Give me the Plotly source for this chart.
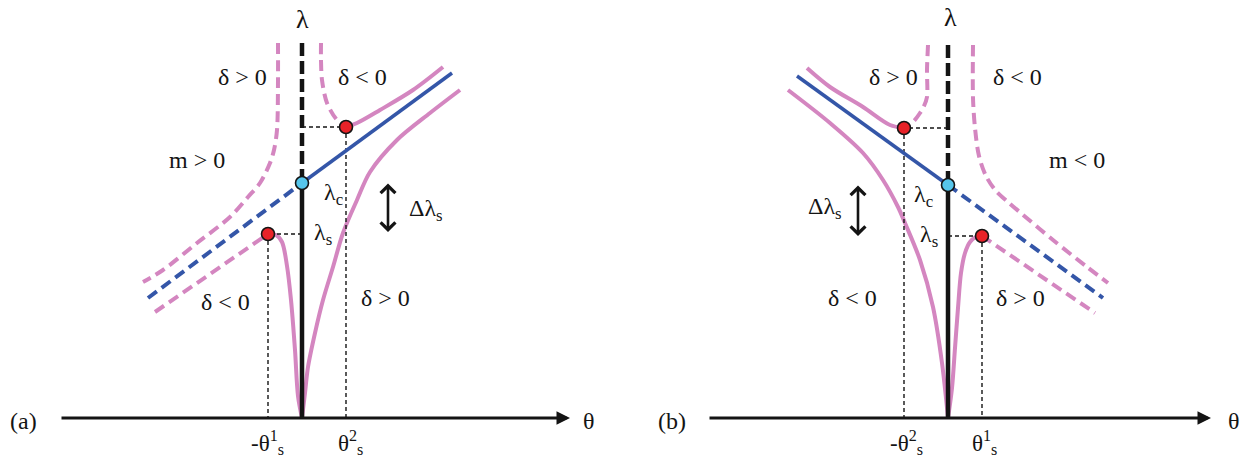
import plotly.graph_objects as go

# colours
PINK = "rgb(212,134,192)"
BLUE = "rgb(52,86,168)"
RED = "rgb(232,34,40)"
CYAN = "rgb(86,198,236)"
INK = "rgb(20,20,20)"
FONT = "Liberation Serif, Times New Roman, Times, serif"

# ---------------- panel (a): m > 0 ----------------
a_up_dash_theta = [19, 19, 20, 25, 35, 44]
a_up_dash_lam = [375, 358, 338, 315, 298, 291]
a_up_solid_theta = [44, 55, 78, 111, 141]
a_up_solid_lam = [291, 295, 308, 328, 351]
a_left_dash_theta = [-24, -24, -25, -28, -32, -42, -54, -72, -105, -139, -159]
a_left_dash_lam = [375, 338, 288, 268, 255, 235, 221, 201, 175, 148, 136]
a_low_dash_theta = [-147, -34]
a_low_dash_lam = [106, 184]
a_well_theta = [-34, -26, -20, -15, -11, -7, -4, 0]
a_well_lam = [184, 183, 176, 152, 118, 68, 22, 0]
a_rise_theta = [0, 3, 6, 13, 21, 31, 41, 55, 68, 95, 128, 158]
a_rise_lam = [0, 25, 51, 85, 118, 151, 185, 218, 246, 278, 305, 328]
a_blue_dash_theta = [-154, 0]
a_blue_dash_lam = [120, 235]
a_blue_solid_theta = [0, 150]
a_blue_solid_lam = [235, 345]
a_lam_top, a_lam_c = 375, 235
a_red_theta = [44, -34]
a_red_lam = [291, 184]
a_cyan_theta = [0]
a_cyan_lam = [235]
a_axis_theta = [-242, 268]

# ---------------- panel (b): m < 0 ----------------
b_up_dash_theta = [-20, -21, -21, -24, -28, -35, -44]
b_up_dash_lam = [373, 348, 321, 312, 305, 296, 290]
b_up_solid_theta = [-44, -58, -85, -118, -141]
b_up_solid_lam = [290, 293, 311, 331, 350]
b_right_dash_theta = [25, 25, 27, 31, 38, 48, 60, 74, 105, 139, 160]
b_right_dash_lam = [373, 320, 290, 262, 242, 227, 216, 204, 178, 151, 135]
b_low_dash_theta = [34, 147]
b_low_dash_lam = [182, 105]
b_well_theta = [0, 4, 7, 10, 13, 17, 22, 28, 34]
b_well_lam = [0, 30, 70, 110, 145, 165, 176, 181, 182]
b_fall_theta = [-160, -118, -85, -65, -50, -43, -28, -15, -6, 0]
b_fall_lam = [328, 295, 265, 238, 211, 195, 158, 111, 55, 0]
b_blue_dash_theta = [0, 155]
b_blue_dash_lam = [233, 120]
b_blue_solid_theta = [-151, 0]
b_blue_solid_lam = [342, 233]
b_lam_top, b_lam_c = 373, 233
b_red_theta = [-44, 34]
b_red_lam = [290, 182]
b_cyan_theta = [0]
b_cyan_lam = [233]
b_axis_theta = [-240, 263]

fig = go.Figure()


def curve(xs, ys, xa, color, width, dash="solid", spline=True):
    fig.add_trace(go.Scatter(
        x=xs, y=ys, xaxis=xa, yaxis="y", mode="lines",
        line=dict(color=color, width=width, dash=dash,
                  shape="spline" if spline else "linear", smoothing=0.9),
        hoverinfo="skip"))


def guide(xs, ys, xa):
    curve(xs, ys, xa, INK, 1.4, dash="4px,3px", spline=False)


def dots(xs, ys, xa, color):
    fig.add_trace(go.Scatter(
        x=xs, y=ys, xaxis=xa, yaxis="y", mode="markers",
        marker=dict(size=13, color=color, line=dict(color=INK, width=1.6)),
        hoverinfo="skip"))


PDASH = "11px,6px"


def panel(xa, up_dash, up_solid, side_dash, low_dash, well, rise,
          blue_dash, blue_solid, lam_top, lam_c, red, cyan, red_pairs):
    # magnon-like branches
    curve(*up_dash, xa, PINK, 4, dash=PDASH)
    curve(*up_solid, xa, PINK, 4)
    curve(*side_dash, xa, PINK, 4, dash=PDASH)
    curve(*low_dash, xa, PINK, 4, dash=PDASH, spline=False)
    curve(*well, xa, PINK, 4)
    curve(*rise, xa, PINK, 4)
    # vertical lambda axis
    curve([0, 0], [lam_top, lam_c], xa, INK, 4.5, dash="13px,5px", spline=False)
    curve([0, 0], [lam_c, 0], xa, INK, 4.5, spline=False)
    # guides from the turning points
    for t, l in red_pairs:
        guide([0, t], [l, l], xa)
        guide([t, t], [l, 0], xa)
    # critical line
    curve(*blue_dash, xa, BLUE, 4, dash=PDASH, spline=False)
    curve(*blue_solid, xa, BLUE, 3.5, spline=False)
    dots(*red, xa, RED)
    dots(*cyan, xa, CYAN)


panel("x", (a_up_dash_theta, a_up_dash_lam), (a_up_solid_theta, a_up_solid_lam),
      (a_left_dash_theta, a_left_dash_lam), (a_low_dash_theta, a_low_dash_lam),
      (a_well_theta, a_well_lam), (a_rise_theta, a_rise_lam),
      (a_blue_dash_theta, a_blue_dash_lam), (a_blue_solid_theta, a_blue_solid_lam),
      a_lam_top, a_lam_c, (a_red_theta, a_red_lam), (a_cyan_theta, a_cyan_lam),
      list(zip(a_red_theta, a_red_lam)))

panel("x2", (b_up_dash_theta, b_up_dash_lam), (b_up_solid_theta, b_up_solid_lam),
      (b_right_dash_theta, b_right_dash_lam), (b_low_dash_theta, b_low_dash_lam),
      (b_well_theta, b_well_lam), (b_fall_theta, b_fall_lam),
      (b_blue_dash_theta, b_blue_dash_lam), (b_blue_solid_theta, b_blue_solid_lam),
      b_lam_top, b_lam_c, (b_red_theta, b_red_lam), (b_cyan_theta, b_cyan_lam),
      list(zip(b_red_theta, b_red_lam)))

annotations = []


def text(xa, x, y, s, size=24):
    annotations.append(dict(xref=xa, yref="y", x=x, y=y, text=s, showarrow=False,
                            font=dict(family=FONT, size=size, color=INK)))


def axis_arrow(xa, x0, x1):
    annotations.append(dict(xref=xa, yref="y", axref=xa, ayref="y",
                            x=x1, y=0, ax=x0, ay=0, text="", showarrow=True,
                            arrowhead=2, arrowsize=0.9, arrowwidth=3,
                            arrowcolor=INK, standoff=0))


def double_arrow(xa, x, y0, y1):
    annotations.append(dict(xref=xa, yref="y", axref=xa, ayref="y",
                            x=x, y=y0, ax=x, ay=y1, text="", showarrow=True,
                            arrowside="end+start", arrowhead=4, startarrowhead=4,
                            arrowsize=1.1, startarrowsize=1.1, arrowwidth=2.6,
                            arrowcolor=INK, standoff=0, startstandoff=0))


# panel (a) labels
axis_arrow("x", a_axis_theta[0], a_axis_theta[1])
double_arrow("x", 86, 186, 236)
text("x", 0, 399, "λ", 26)
text("x", -60, 341, "δ > 0")
text("x", 60, 341, "δ < 0")
text("x", -105, 258, "m > 0")
text("x", 31, 224, "λ<sub>c</sub>")
text("x", 21, 184, "λ<sub>s</sub>")
text("x", 124, 208, "Δλ<sub>s</sub>")
text("x", -77, 116, "δ < 0")
text("x", 83, 120, "δ > 0")
text("x", -35, -24, "-θ<sup>1</sup><sub>s</sub>", 23)
text("x", 48, -24, "θ<sup>2</sup><sub>s</sub>", 23)
text("x", -279, -3, "(a)")
text("x", 287, -3, "θ")

# panel (b) labels
axis_arrow("x2", b_axis_theta[0], b_axis_theta[1])
double_arrow("x2", -90, 182, 234)
text("x2", 2, 401, "λ", 26)
text("x2", -55, 341, "δ > 0")
text("x2", 69, 341, "δ < 0")
text("x2", 129, 258, "m < 0")
text("x2", -25, 222, "λ<sub>c</sub>")
text("x2", -19, 182, "λ<sub>s</sub>")
text("x2", -123, 210, "Δλ<sub>s</sub>")
text("x2", -96, 120, "δ < 0")
text("x2", 72, 120, "δ > 0")
text("x2", -42, -24, "-θ<sup>2</sup><sub>s</sub>", 23)
text("x2", 36, -24, "θ<sup>1</sup><sub>s</sub>", 23)
text("x2", -276, -3, "(b)")
text("x2", 286, -3, "θ")

hidden = dict(visible=False, showgrid=False, zeroline=False, fixedrange=True)
fig.update_layout(
    width=1247, height=461,
    margin=dict(l=0, r=0, t=0, b=0),
    paper_bgcolor="white", plot_bgcolor="white",
    showlegend=False,
    xaxis=dict(domain=[0, 0.5], range=[-302, 321.5], anchor="y", **hidden),
    xaxis2=dict(domain=[0.5, 1], range=[-324.5, 299], anchor="y", **hidden),
    yaxis=dict(domain=[0, 1], range=[-43, 418], anchor="x", **hidden),
    annotations=annotations,
)

fig.write_html("out.html")
